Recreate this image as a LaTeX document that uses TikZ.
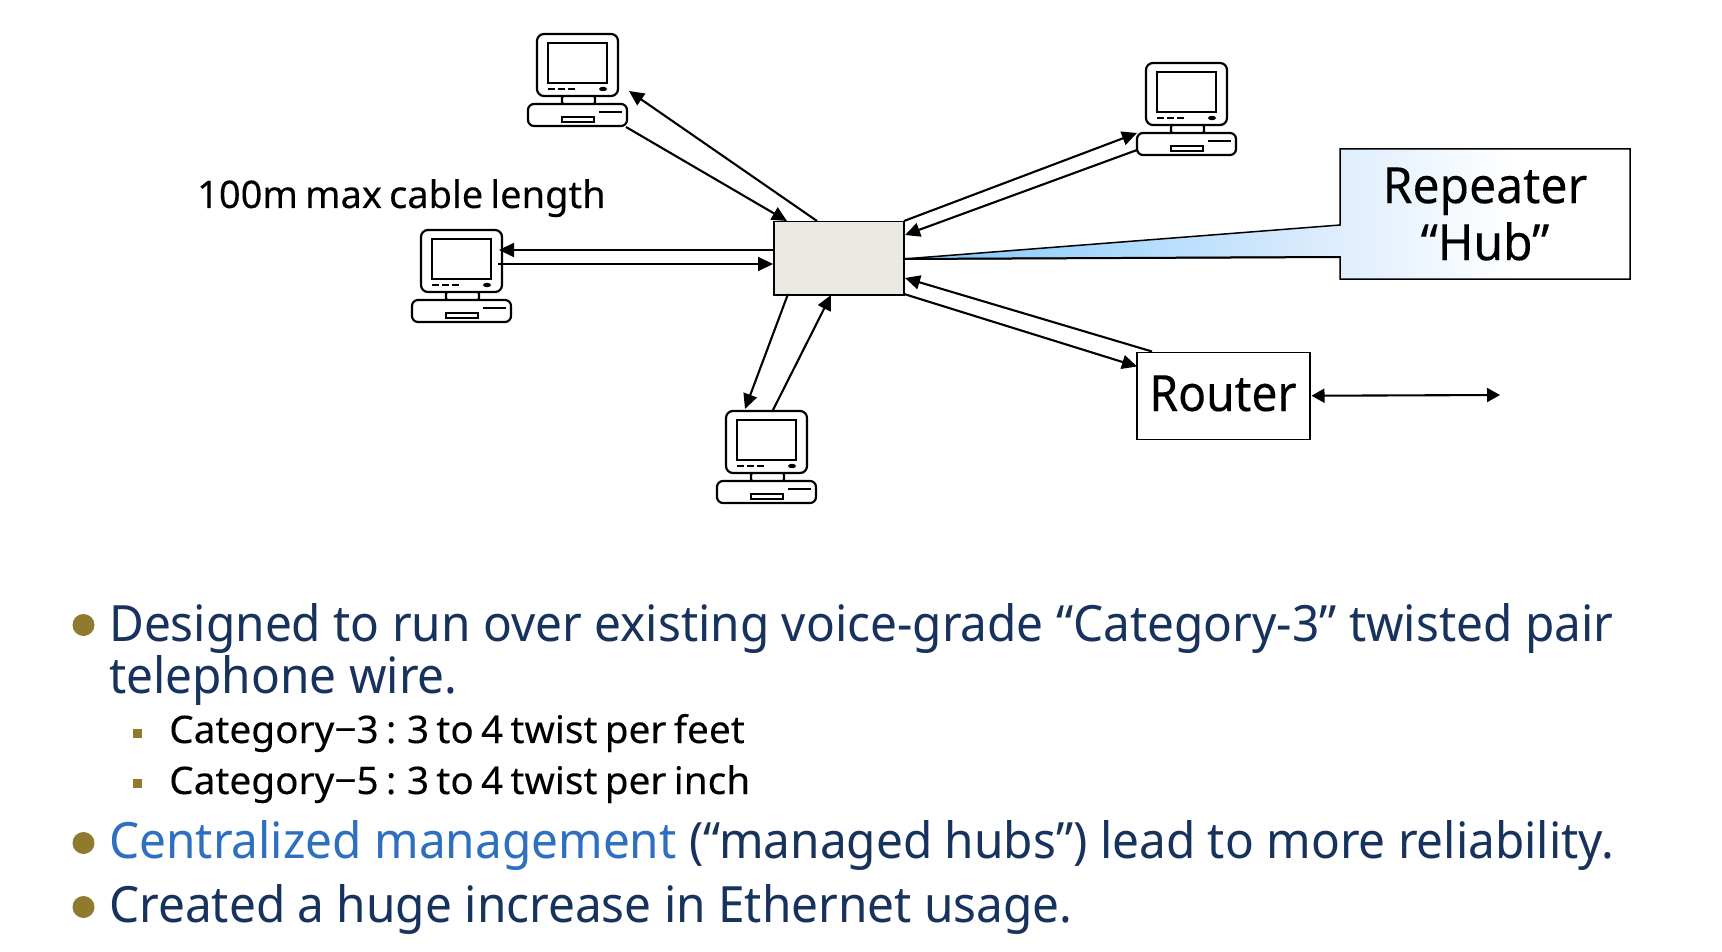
\documentclass[tikz,border=0pt]{standalone}
\usepackage{fontspec}
\setmainfont{Noto Sans}
\newfontfamily\leadfont[FakeStretch=0.955]{Noto Sans}
\newfontfamily\subfont[FakeStretch=1.02,WordSpace=0.72,FakeBold=0.15]{Noto Sans}
\newfontfamily\capfont[FakeStretch=1.0,WordSpace=0.72,FakeBold=0.15]{Noto Sans}
\newfontfamily\labelfont[FakeStretch=0.96,FakeBold=0.15]{Noto Sans}
\newfontfamily\routerfont[FakeStretch=0.925,FakeBold=0.15]{Noto Sans}
\usetikzlibrary{arrows.meta}
\definecolor{navy}{HTML}{17325C}
\definecolor{midblue}{HTML}{2E6FC0}
\definecolor{olive}{HTML}{8F7A2E}
\definecolor{hubfill}{HTML}{ECE9E2}
\pgfdeclarehorizontalshading{calloutshade}{100bp}{rgb(0bp)=(0.49,0.78,0.98);rgb(25bp)=(0.49,0.78,0.98);rgb(53bp)=(0.85,0.92,0.99);rgb(67bp)=(1,1,1);rgb(100bp)=(1,1,1)}
\tikzset{
  conn/.style={line width=2.1pt,-{Triangle[length=15pt,width=14pt]}},
  conntwo/.style={line width=2.1pt,{Triangle[length=13pt,width=14pt]}-{Triangle[length=13pt,width=14pt]}},
  pcpart/.style={draw=black,line width=2.2pt,fill=white},
  pcthin/.style={draw=black,line width=1.7pt},
  boxnode/.style={draw=black,line width=1.5pt,inner sep=0pt,anchor=north west},
  lead/.style={anchor=base west,inner sep=0pt,text=navy,font=\leadfont\fontsize{50}{50}\selectfont},
  sub/.style={anchor=base west,inner sep=0pt,text=black,font=\subfont\fontsize{38}{38}\selectfont},
  bigdot/.style={circle,fill=olive,inner sep=0pt,minimum size=22pt},
  smalldot/.style={rectangle,fill=olive,inner sep=0pt,minimum size=9pt},
}
\newcommand{\pcicon}[3]{%
  \begin{scope}[shift={(#2,#3)}]
    \node[inner sep=0pt,minimum width=100pt,minimum height=93pt,anchor=north west] (#1) at (-10,0) {};
    \draw[pcpart,rounded corners=3pt] (25,61) rectangle (58,71);
    \draw[pcpart,rounded corners=7pt] (0,0) rectangle (81,62);
    \draw[pcthin,fill=white] (11,9) rectangle (70,49);
    \draw[line width=1.2pt] (11,55) -- (18,55) (21,55) -- (28,55) (31,55) -- (38,55);
    \fill (66,55) ellipse (4pt and 2.2pt);
    \draw[pcpart,rounded corners=6pt] (-9,70) rectangle (90,92);
    \draw[line width=1.3pt,fill=white] (25,83) rectangle (57,88);
    \draw[line width=1.3pt] (62,78) -- (85,78);
  \end{scope}}
\begin{document}
\begin{tikzpicture}[x=1pt,y=-1pt]
\useasboundingbox (0,0) rectangle (1722,952);
\fill[white] (0,0) rectangle (1722,952);

\pcicon{pcT}{537}{34}
\pcicon{pcL}{421}{230}
\pcicon{pcB}{726}{411}
\pcicon{pcR}{1146}{63}

\node[boxnode,fill=hubfill,minimum width=130pt,minimum height=73pt] (hub) at (773,221) {};
\node[boxnode,fill=white,minimum width=173pt,minimum height=87pt] (router) at (1136,351.5) {};
\node[anchor=base,inner sep=0pt,font=\routerfont\fontsize{50}{50}\selectfont] (routertext) at (1223,411) {Router};

\coordinate (tip) at ([shift={(130,38)}]hub.north west);
\draw[line width=1.5pt,shading=calloutshade] (tip) -- (1340,225) -- (1340,149) -- (1630,149) -- (1630,279) -- (1340,279) -- (1340,257) -- cycle;
\draw[line width=2pt] (tip) -- (1340,257);
\node[align=center,inner sep=0pt,font=\labelfont\fontsize{50}{57}\selectfont] (repeater) at (1485,214) {Repeater\\“Hub”};

\node[anchor=base west,inner sep=0pt,font=\capfont\fontsize{38}{38}\selectfont] (maxlen) at (197,208) {100m max cable length};

\draw[conn] ([shift={(44,0)}]hub.north west) -- ([shift={(102,57)}]pcT.north west);
\draw[conn] ([shift={(99,93)}]pcT.north west) -- ([shift={(14,0)}]hub.north west);
\draw[conn] ([shift={(0,29)}]hub.north west) -- ([shift={(88,20)}]pcL.north west);
\draw[conn] ([shift={(87,34)}]pcL.north west) -- ([shift={(0,43)}]hub.north west);
\draw[conn] ([shift={(15,73)}]hub.north west) -- ([shift={(29,-2)}]pcB.north west);
\draw[conn] ([shift={(57,-1)}]pcB.north west) -- ([shift={(58,74)}]hub.north west);
\draw[conn] ([shift={(131,0)}]hub.north west) -- ([shift={(1,70)}]pcR.north west);
\draw[conn] ([shift={(1,87)}]pcR.north west) -- ([shift={(132,14)}]hub.north west);
\draw[conn] ([shift={(16,0)}]router.north west) -- ([shift={(132,57)}]hub.north west);
\draw[conn] ([shift={(131,73)}]hub.north west) -- ([shift={(1,15)}]router.north west);
\coordinate (routerend) at (1500,395);
\draw[conntwo] ([shift={(1,0)}]router.east) -- (routerend);

\node[bigdot] (d1) at (83.5,625) {};
\node[lead] (t1) at (109,641) {Designed to run over existing voice-grade “Category-3” twisted pair};
\node[lead] (t1b) at (109,693) {telephone wire.};
\node[smalldot] (s1) at (137.5,733) {};
\node[sub] (t2) at (169,743) {Category−3 : 3 to 4 twist per feet};
\node[smalldot] (s2) at (137.5,783) {};
\node[sub] (t3) at (169,794) {Category−5 : 3 to 4 twist per inch};
\node[bigdot] (d2) at (83.5,843) {};
\node[lead] (t4) at (109,858) {\textcolor{midblue}{Centralized management} (“managed hubs”) lead to more reliability.};
\node[bigdot] (d3) at (83.5,907) {};
\node[lead] (t5) at (109,922) {Created a huge increase in Ethernet usage.};
\end{tikzpicture}
\end{document}
